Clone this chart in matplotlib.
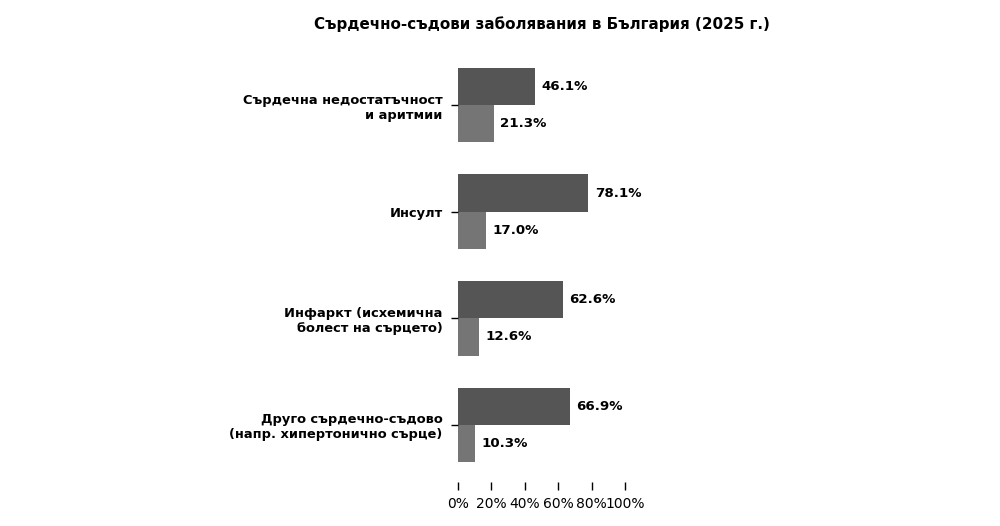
import numpy as np
import matplotlib.pyplot as plt

categories = [
    'Сърдечна недостатъчност\nи аритмии',
    'Инсулт',
    'Инфаркт (исхемична\nболест на сърцето)',
    'Друго сърдечно-съдово\n(напр. хипертонично сърце)',
]
series_a = [46.1, 78.1, 62.6, 66.9]
series_b = [21.3, 17.0, 12.6, 10.3]
x_ticks = [0, 20, 40, 60, 80, 100]

fig = plt.figure(figsize=(10, 5.26), dpi=100)
ax = fig.add_axes([0.458, 0.0837, 0.167, 0.825])

y = np.arange(len(categories))
h = 0.35
bars_a = ax.barh(y - h / 2, series_a, height=h, color='#555555')
bars_b = ax.barh(y + h / 2, series_b, height=h, color='#757575')

for bars, vals in [(bars_a, series_a), (bars_b, series_b)]:
    for b, v in zip(bars, vals):
        ax.annotate(f'{v:.1f}%', (b.get_width(), b.get_y() + b.get_height() / 2),
                    xytext=(4.5, 0), textcoords='offset points', va='center',
                    ha='left', fontsize=9.6, fontweight='bold')

ax.set_xlim(0, 100)
ax.set_xticks(x_ticks)
ax.set_xticklabels([f'{t}%' for t in x_ticks], fontsize=10)
ax.set_yticks(y)
ax.set_yticklabels(categories, fontsize=9.4, fontweight='bold')
ax.invert_yaxis()
ax.tick_params(axis='x', length=5.5, width=1, pad=5.5)
ax.tick_params(axis='y', length=5, width=1, pad=6)
for s in ax.spines.values():
    s.set_visible(False)
ax.set_title('Сърдечно-съдови заболявания в България (2025 г.)',
             fontsize=10.9, fontweight='bold', pad=14)

fig.savefig('out.png', dpi=100)
